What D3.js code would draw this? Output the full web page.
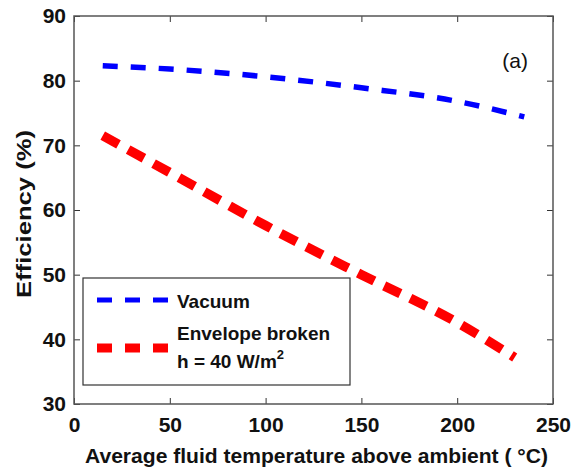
<!DOCTYPE html>
<html>
<head>
<meta charset="utf-8">
<script src="https://cdn.jsdelivr.net/npm/d3@7"></script>
<style>
  body { margin: 0; background: white; }
  text { font-family: "Liberation Sans", Arial, sans-serif; }
</style>
</head>
<body>
<div id="chart"></div>
<script>
// data
var temps_vac = [15, 50, 100, 150, 200, 235];
var eff_vac = [82.3, 81.8, 80.6, 78.9, 76.8, 74.4];
var temps_env = [15, 50, 100, 150, 200, 230];
var eff_env = [71.5, 65.8, 57.6, 50.0, 42.6, 37.2];
var x_ticks = [0, 50, 100, 150, 200, 250];
var y_ticks = [30, 40, 50, 60, 70, 80, 90];

var W = 571, H = 471;
var left = 74, top_ = 16, right = 553, bottom = 404;

var svg = d3.select("#chart").append("svg")
  .attr("width", W).attr("height", H);

var xscale = d3.scaleLinear().domain([0, 250]).range([left, right]);
var yscale = d3.scaleLinear().domain([30, 90]).range([bottom, top_]);

// curves
var line = d3.line().curve(d3.curveMonotoneX);

svg.append("path")
  .attr("d", line(temps_vac.map(function(t, i){ return [xscale(t), yscale(eff_vac[i])]; })))
  .attr("fill", "none")
  .attr("stroke", "#0000ff")
  .attr("stroke-width", 5.5)
  .attr("stroke-dasharray", "15,13");

svg.append("path")
  .attr("d", line(temps_env.map(function(t, i){ return [xscale(t), yscale(eff_env[i])]; })))
  .attr("fill", "none")
  .attr("stroke", "#ff0000")
  .attr("stroke-width", 9.5)
  .attr("stroke-dasharray", "18,11");

// axes, ticks pointing in
var axisStyle = function(g){
  g.select(".domain").remove();
  g.selectAll("line").attr("stroke", "#333").attr("stroke-width", 1);
  g.selectAll("text")
    .style("font-size", "21px")
    .style("font-weight", "bold")
    .attr("fill", "#111");
};

svg.append("g")
  .attr("transform", "translate(0," + bottom + ")")
  .call(d3.axisBottom(xscale).tickValues(x_ticks).tickSizeInner(-6).tickSizeOuter(0).tickPadding(13))
  .call(axisStyle);
svg.append("g")
  .attr("transform", "translate(0," + top_ + ")")
  .call(d3.axisTop(xscale).tickValues(x_ticks).tickSizeInner(-6).tickSizeOuter(0).tickFormat(""))
  .call(axisStyle);
svg.append("g")
  .attr("transform", "translate(" + left + ",0)")
  .call(d3.axisLeft(yscale).tickValues(y_ticks).tickSizeInner(-6).tickSizeOuter(0).tickPadding(8))
  .call(axisStyle);
svg.append("g")
  .attr("transform", "translate(" + right + ",0)")
  .call(d3.axisRight(yscale).tickValues(y_ticks).tickSizeInner(-6).tickSizeOuter(0).tickFormat(""))
  .call(axisStyle);

svg.append("rect")
  .attr("x", left).attr("y", top_)
  .attr("width", right - left).attr("height", bottom - top_)
  .attr("fill", "none").attr("stroke", "#555").attr("stroke-width", 1.5);

// axis titles
svg.append("text")
  .attr("x", 85).attr("y", 463)
  .attr("textLength", 463).attr("lengthAdjust", "spacingAndGlyphs")
  .style("font-size", "21px").style("font-weight", "bold").attr("fill", "#111")
  .text("Average fluid temperature above ambient ( \u00B0C)");

svg.append("text")
  .attr("transform", "translate(31,298) rotate(-90)")
  .attr("textLength", 168).attr("lengthAdjust", "spacingAndGlyphs")
  .style("font-size", "21px").style("font-weight", "bold").attr("fill", "#111")
  .text("Efficiency (%)");

// panel label
svg.append("text")
  .attr("x", 528).attr("y", 68)
  .attr("text-anchor", "end")
  .style("font-size", "21px").attr("fill", "#111")
  .text("(a)");

// legend
var lg = svg.append("g");
lg.append("rect")
  .attr("x", 83).attr("y", 278).attr("width", 267).attr("height", 107)
  .attr("fill", "white").attr("stroke", "#333").attr("stroke-width", 1.2);
lg.append("line")
  .attr("x1", 97).attr("x2", 168).attr("y1", 300).attr("y2", 300)
  .attr("stroke", "#0000ff").attr("stroke-width", 5).attr("stroke-dasharray", "15,13");
lg.append("line")
  .attr("x1", 97).attr("x2", 168).attr("y1", 348).attr("y2", 348)
  .attr("stroke", "#ff0000").attr("stroke-width", 9).attr("stroke-dasharray", "15,13");
lg.append("text").attr("x", 177).attr("y", 308)
  .style("font-size", "19px").style("font-weight", "bold").attr("fill", "#111")
  .text("Vacuum");
lg.append("text").attr("x", 177).attr("y", 340)
  .style("font-size", "19px").style("font-weight", "bold").attr("fill", "#111")
  .text("Envelope broken");
var t2 = lg.append("text").attr("x", 177).attr("y", 368)
  .style("font-size", "19px").style("font-weight", "bold").attr("fill", "#111");
t2.append("tspan").text("h = 40 W/m");
t2.append("tspan").attr("dy", -9).style("font-size", "13px").text("2");
</script>
</body>
</html>
